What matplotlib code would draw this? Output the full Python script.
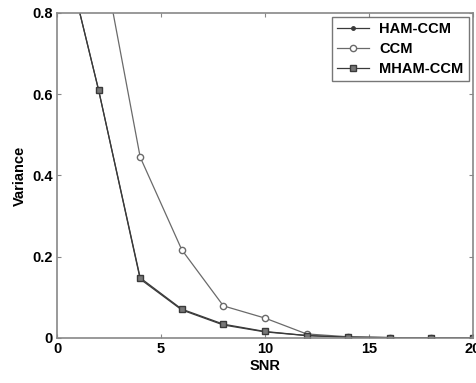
import matplotlib; matplotlib.use("Agg")
import matplotlib.pyplot as plt

snr = [0, 2, 4, 6, 8, 10, 12, 14, 16, 18, 20]
ham_ccm = [1.03, 0.61, 0.145, 0.069, 0.032, 0.015, 0.006, 0.002, 0.001, 0.0005, 0.0003]
ccm = [1.6, 0.99, 0.445, 0.217, 0.079, 0.049, 0.010, 0.003, 0.001, 0.0005, 0.0003]
mham_ccm = [1.03, 0.61, 0.148, 0.071, 0.034, 0.016, 0.006, 0.002, 0.001, 0.0005, 0.0003]

plt.rcParams.update({"font.family": "Liberation Sans", "font.weight": "bold", "font.size": 10.5})

fig = plt.figure(figsize=(4.77, 3.83), dpi=100)
ax = fig.add_axes([0.1195, 0.1175, 0.872, 0.849])

lc = "#3a3a3a"
ax.plot(snr, ham_ccm, color=lc, lw=0.9, marker=".", ms=5, label="HAM-CCM")
ax.plot(snr, ccm, color="#6a6a6a", lw=0.9, marker="o", ms=4.5, mfc="white", label="CCM")
ax.plot(snr, mham_ccm, color=lc, lw=0.9, marker="s", ms=4.5, mfc="#777777", label="MHAM-CCM")

ax.set_xlim(0, 20)
ax.set_ylim(0, 0.8)
ax.set_xticks([0, 5, 10, 15, 20])
ax.set_xticklabels(["0", "5", "10", "15", "20"])
ax.set_yticks([0, 0.2, 0.4, 0.6, 0.8])
ax.set_yticklabels(["0", "0.2", "0.4", "0.6", "0.8"])
ax.tick_params(direction="in", length=3, top=True, right=True, color="#888888", labelsize=10.5, pad=3)
for s in ax.spines.values():
    s.set_color("#888888"); s.set_linewidth(1.2)
ax.set_xlabel("SNR", fontweight="bold", labelpad=2)
ax.set_ylabel("Variance", fontweight="bold", labelpad=4)

leg = ax.legend(loc="upper right", fontsize=10.5, frameon=True, fancybox=False,
                edgecolor="#555555", borderpad=0.35, labelspacing=0.4, handlelength=2.2,
                handletextpad=0.7, borderaxespad=0.3)
leg.get_frame().set_linewidth(1.0)

plt.savefig("out.png", dpi=100)
